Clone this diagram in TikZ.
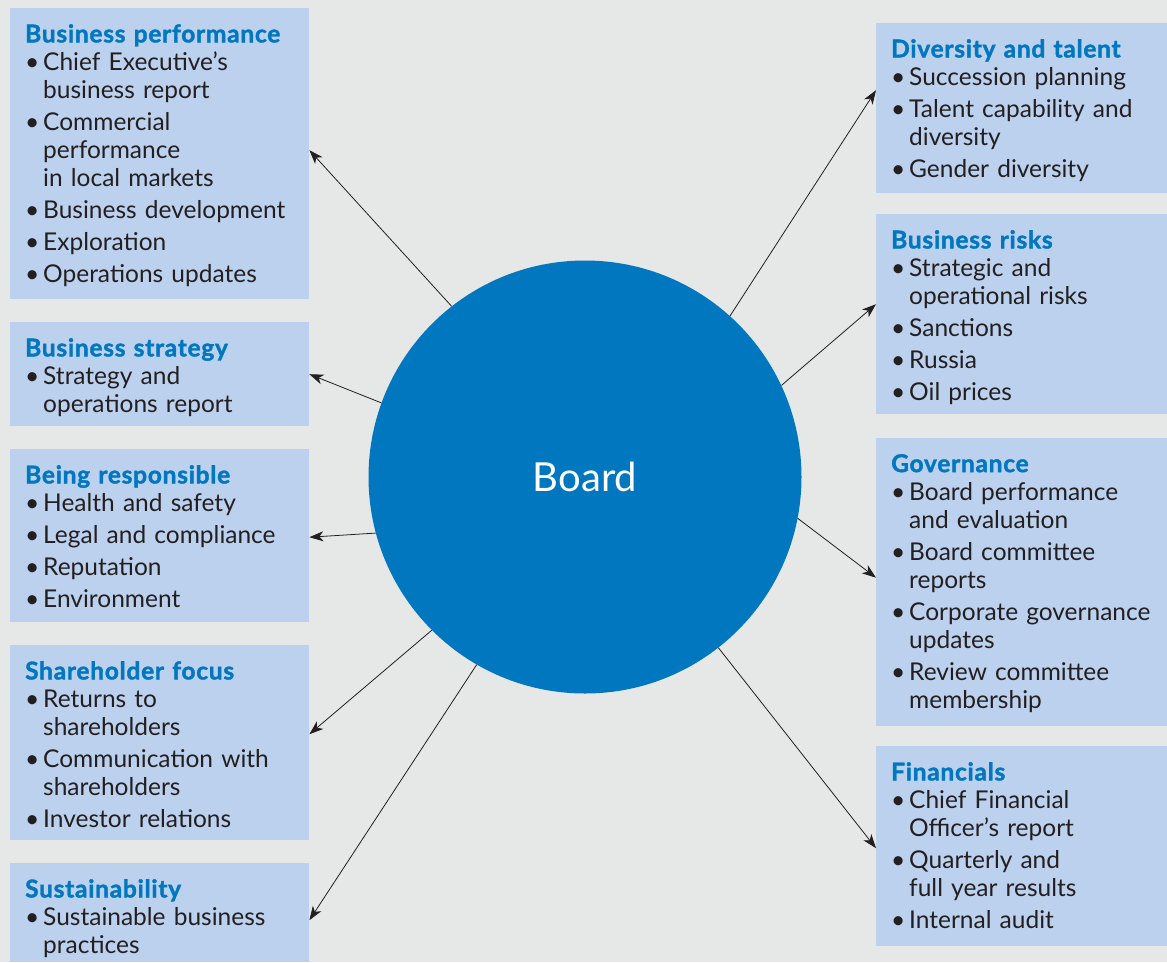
\documentclass[tikz,border=0pt]{standalone}
\usepackage{fontspec}
\setmainfont{Lato}[BoldFeatures={FakeBold=1.6, LetterSpace=3}]
\usetikzlibrary{arrows.meta}

\definecolor{bgc}{HTML}{E6E8E8}
\definecolor{boxblue}{HTML}{BCD1EE}
\definecolor{boardblue}{HTML}{0077BF}
\definecolor{ink}{HTML}{231F20}

\newcommand{\bhead}[1]{{\bfseries\color{boardblue}#1}\par\vspace{-4pt}}
\newcommand{\bitem}[1]{\hangindent=18pt\hangafter=1\noindent\makebox[18pt][l]{\textbullet}#1\par}

\tikzset{
  panel/.style={fill=boxblue, draw=none, anchor=north west, inner sep=0pt},
  txt/.style={anchor=north west, inner sep=0pt, text width=285pt, align=left, text=ink,
    font=\fontsize{24.5}{28}\selectfont,
    execute at begin node={\setlength{\parskip}{4pt}\setlength{\parindent}{0pt}}},
  link/.style={draw=ink, line width=0.8pt, -{Stealth[length=14pt,width=10pt,inset=4pt]}}
}

\begin{document}
\begin{tikzpicture}[x=1pt, y=-1pt]
  \fill[bgc] (0,0) rectangle (1167,962);
  \useasboundingbox (0,0) rectangle (1167,962);

  \node[circle, fill=boardblue, minimum size=433pt, text=white,
        font=\fontsize{40}{48}\selectfont] (board) at (585,477) {Board};

  % left column
  \node[panel, minimum width=299pt, minimum height=291pt] (perf) at (10,8) {};
  \node[txt] (perf-t) at (25,24) {\bhead{Business performance}
    \bitem{Chief Executive's\newline business report}
    \bitem{Commercial\newline performance\newline in local markets}
    \bitem{Business development}
    \bitem{Exploration}
    \bitem{Operations updates}};

  \node[panel, minimum width=299pt, minimum height=104pt] (strat) at (10,322) {};
  \node[txt] (strat-t) at (25,338) {\bhead{Business strategy}
    \bitem{Strategy and\newline operations report}};

  \node[panel, minimum width=299pt, minimum height=173pt] (resp) at (10,449) {};
  \node[txt] (resp-t) at (25,465) {\bhead{Being responsible}
    \bitem{Health and safety}
    \bitem{Legal and compliance}
    \bitem{Reputation}
    \bitem{Environment}};

  \node[panel, minimum width=299pt, minimum height=195pt] (share) at (10,645) {};
  \node[txt] (share-t) at (25,661) {\bhead{Shareholder focus}
    \bitem{Returns to\newline shareholders}
    \bitem{Communication with\newline shareholders}
    \bitem{Investor relations}};

  \node[panel, minimum width=299pt, minimum height=99pt] (sust) at (10,863) {};
  \node[txt] (sust-t) at (25,879) {\bhead{Sustainability}
    \bitem{Sustainable business\newline practices}};

  % right column
  \node[panel, minimum width=291pt, minimum height=170pt] (talent) at (876,23) {};
  \node[txt] (talent-t) at (891,39) {\bhead{Diversity and talent}
    \bitem{Succession planning}
    \bitem{Talent capability and\newline diversity}
    \bitem{Gender diversity}};

  \node[panel, minimum width=291pt, minimum height=200pt] (risks) at (876,214) {};
  \node[txt] (risks-t) at (891,230) {\bhead{Business risks}
    \bitem{Strategic and\newline operational risks}
    \bitem{Sanctions}
    \bitem{Russia}
    \bitem{Oil prices}};

  \node[panel, minimum width=291pt, minimum height=288pt] (gov) at (876,438) {};
  \node[txt] (gov-t) at (891,454) {\bhead{Governance}
    \bitem{Board performance\newline and evaluation}
    \bitem{Board committee\newline reports}
    \bitem{Corporate governance\newline updates}
    \bitem{Review committee\newline membership}};

  \node[panel, minimum width=291pt, minimum height=200pt] (fin) at (876,746) {};
  \node[txt] (fin-t) at (891,762) {\bhead{Financials}
    \bitem{Chief Financial\newline Officer's report}
    \bitem{Quarterly and\newline full year results}
    \bitem{Internal audit}};

  % arrows out of the board
  \draw[link] (board.128.9) -- ([yshift=3.5pt]perf.east);
  \draw[link] (board.160.4) -- (strat.east);
  \draw[link] (board.195.9) -- ([yshift=-1.5pt]resp.east);
  \draw[link] (board.225.5) -- ([yshift=8.5pt]share.east);
  \draw[link] (board.240.8) -- ([yshift=-7.5pt]sust.east);
  \draw[link] (board.48.9) -- ([yshift=18pt]talent.west);
  \draw[link] (board.25.5) -- ([yshift=10pt]risks.west);
  \draw[link] (board.349.2) -- ([yshift=4.5pt]gov.west);
  \draw[link] (board.308.9) -- ([yshift=-2pt]fin.west);
\end{tikzpicture}
\end{document}
